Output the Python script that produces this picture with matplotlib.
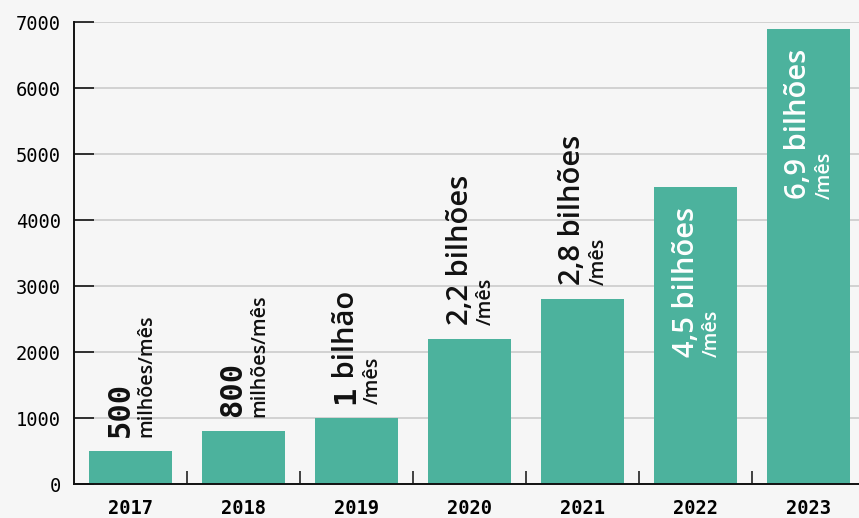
import matplotlib
matplotlib.use("Agg")
import matplotlib.pyplot as plt
from matplotlib.ticker import MultipleLocator, FixedLocator

# dados
anos = ["2017", "2018", "2019", "2020", "2021", "2022", "2023"]
valores = [500, 800, 1000, 2200, 2800, 4500, 6900]
# rótulo principal (pedaços: texto, fonte) e complemento
rotulos = [
    [("500", "mono")],
    [("800", "mono")],
    [("1", "mono"), (" bilhão", "sans")],
    [("2,2 bilhões", "sans")],
    [("2,8 bilhões", "sans")],
    [("4,5 bilhões", "sans")],
    [("6,9 bilhões", "sans")],
]
complementos = ["milhões/mês", "milhões/mês", "/mês", "/mês", "/mês", "/mês", "/mês"]
dentro = [False, False, False, False, False, True, True]

fundo = "#f6f6f6"
verde = "#4cb29d"
fontes = {
    "mono": dict(family="DejaVu Sans Mono", weight="bold", size=22),
    "sans": dict(family="Open Sans", weight="semibold", size=21),
}

fig = plt.figure(figsize=(8.59, 5.18), dpi=100, facecolor=fundo)
ax = fig.add_axes([74 / 859, 34 / 518, (865 - 74) / 859, 462 / 518])
ax.set_facecolor(fundo)

x = list(range(len(anos)))
ax.bar(x, valores, width=0.726, color=verde, zorder=2)

ax.set_xlim(-0.5, 6.5)
ax.set_ylim(0, 7000)
ax.yaxis.set_major_locator(MultipleLocator(1000))
ax.set_xticks(x, anos)
ax.xaxis.set_minor_locator(FixedLocator([i + 0.5 for i in x]))

for s in ["top", "right"]:
    ax.spines[s].set_visible(False)
for s in ["left", "bottom"]:
    ax.spines[s].set_linewidth(1.4)
    ax.spines[s].set_color("#111111")

ax.set_axisbelow(True)
ax.grid(axis="y", color="#cfcfcf", linewidth=1.3)
ax.tick_params(axis="y", direction="in", length=14.4, width=1.3, color="#222222",
               pad=9.4, labelsize=13.5)
ax.tick_params(axis="x", which="major", length=0, pad=10.5, labelsize=13.5)
ax.tick_params(axis="x", which="minor", direction="in", length=9.4, width=1.1,
               color="#111111")
for t in ax.get_yticklabels():
    t.set_family("DejaVu Sans Mono")
for t in ax.get_xticklabels():
    t.set_family("DejaVu Sans Mono")
    t.set_weight("bold")

fig.canvas.draw()
r = fig.canvas.get_renderer()

for i in x:
    cor = "white" if dentro[i] else "#111111"
    pedacos = []
    for txt, f in rotulos[i]:
        t = ax.annotate(txt, (i, valores[i]), xytext=(-2, 0), textcoords="offset pixels",
                        rotation=90, rotation_mode="anchor", ha="left", va="baseline",
                        color=cor, zorder=3, **fontes[f])
        pedacos.append(t)
    comprimentos = [t.get_window_extent(r).height for t in pedacos]
    total = sum(comprimentos)
    inicio = -20 - total if dentro[i] else 14
    pos = inicio
    for t, c in zip(pedacos, comprimentos):
        t.xyann = (-2, pos)
        pos += c
    ax.annotate(complementos[i], (i, valores[i]), xytext=(21, inicio),
                textcoords="offset pixels", rotation=90, rotation_mode="anchor",
                ha="left", va="baseline", color=cor, zorder=3,
                family="Open Sans", weight="semibold", size=14)

fig.savefig("out.png", dpi=100, facecolor=fundo)
